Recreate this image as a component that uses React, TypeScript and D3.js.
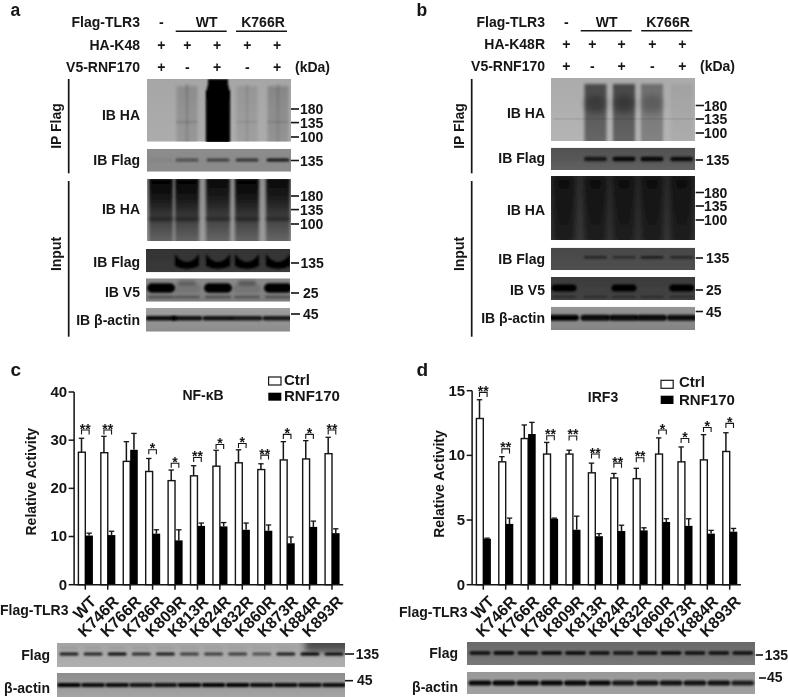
import React, { useEffect, useRef } from "react";
import * as d3 from "d3";

// ---------- bar chart data ----------
const mutants = ["WT", "K746R", "K766R", "K786R", "K809R", "K813R", "K824R", "K832R", "K860R", "K873R", "K884R", "K893R"];

const nfCtrl = [27.5, 27.4, 25.6, 23.5, 21.6, 22.6, 24.6, 25.3, 23.9, 25.9, 26.1, 27.2];
const nfCtrlTop = [30.4, 30.8, 29.7, 26.2, 23.8, 24.7, 27.9, 28, 25.1, 29.7, 29.9, 30.6];
const nfRnf = [10.2, 10.3, 28, 10.6, 9.2, 12.2, 12.1, 11.4, 11.2, 8.6, 12, 10.7];
const nfRnfTop = [10.7, 11.1, 31.4, 11.4, 11.4, 12.8, 12.9, 12.8, 12.4, 9.9, 13.2, 11.6];
const nfStars = ["**", "**", "", "*", "*", "**", "*", "*", "**", "*", "*", "**"];
const nfBracket = [32.1, 32.1, 0, 28, 25.2, 26.4, 29.1, 29.3, 26.9, 31.2, 31.2, 32.1];
const nfTicks = [0, 10, 20, 30, 40];

const irfCtrl = [12.85, 9.5, 11.3, 10.1, 10.1, 8.65, 8.25, 8.2, 10.1, 9.5, 9.65, 10.3];
const irfCtrlTop = [14.3, 9.9, 12.35, 11.0, 10.4, 9.4, 8.6, 9.0, 11.35, 10.65, 11.6, 11.75];
const irfRnf = [3.55, 4.7, 11.65, 5.1, 4.25, 3.75, 4.15, 4.2, 4.85, 4.55, 3.95, 4.1];
const irfRnfTop = [3.6, 5.15, 12.55, 5.15, 5.3, 3.95, 4.6, 4.4, 5.1, 5.1, 4.2, 4.35];
const irfStars = ["**", "**", "", "**", "**", "**", "**", "**", "*", "*", "*", "*"];
const irfBracket = [14.87, 10.5, 0, 11.52, 11.5, 10.1, 9.4, 9.82, 11.96, 11.3, 12.16, 12.47];
const irfTicks = [0, 5, 10, 15];

// ---------- blot lane intensities ----------
const aIpHa = [0, 0.16, 1, 0.1, 0.2];
const aIpFlag = [0.06, 0.45, 0.55, 0.65, 0.85];
const aInFlag = [0, 1, 1, 1, 1];
const aV5 = [1, 0.1, 1, 0.1, 1];
const aV5Upper = [0, 0.25, 0, 0.3, 0];
const aActin = [0.95, 0.9, 0.9, 0.85, 0.85];
const bIpHa = [0, 0.6, 0.62, 0.38, 0.06];
const bIpFlag = [0, 0.7, 0.9, 0.9, 0.85];
const bInFlag = [0, 0.55, 0.45, 0.65, 0.55];
const bV5 = [1, 0, 1, 0, 1];
const bActin = [1, 0.95, 0.95, 0.95, 0.9];
const cFlag = [0.85, 0.8, 0.95, 0.75, 0.85, 0.65, 0.65, 0.65, 0.55, 0.85, 1, 0.95];
const cActin = [1, 0.95, 0.95, 0.9, 0.9, 1, 1, 1, 0.95, 0.95, 0.95, 0.95];
const dFlag = [0.9, 1, 0.9, 0.95, 0.95, 0.9, 0.85, 0.9, 0.95, 0.9, 0.9, 0.9];
const dActin = [0.95, 1, 0.95, 0.95, 1, 0.95, 0.85, 0.9, 0.9, 0.9, 0.9, 0.8];

const FONT = "'Liberation Sans', Arial, sans-serif";
const INK = "#141414";

const T = ({ x, y, a = "start", s = 14, r, children }: any) => (
  <text
    x={x}
    y={y}
    textAnchor={a}
    fontSize={s}
    fontWeight={700}
    fontFamily={FONT}
    fill={INK}
    transform={r ? `rotate(${r} ${x} ${y})` : undefined}
  >
    {children}
  </text>
);

let blotId = 0;
const Blot = ({ x, y, w, h, top, bottom, children }: any) => {
  const id = `blot${blotId++}`;
  return (
    <g clipPath={`url(#${id}c)`}>
      <defs>
        <clipPath id={`${id}c`}>
          <rect x={x} y={y} width={w} height={h} />
        </clipPath>
        <linearGradient id={`${id}g`} x1="0" y1="0" x2="0" y2="1">
          <stop offset="0" stopColor={top} />
          <stop offset="1" stopColor={bottom} />
        </linearGradient>
      </defs>
      <rect x={x} y={y} width={w} height={h} fill={`url(#${id}g)`} />
      {children}
    </g>
  );
};

const bands = (cs: number[], vals: number[], y: number, w: number, h: number, blur = "b07", fill = "#000") =>
  cs.map((c, i) =>
    vals[i] > 0 ? (
      <rect key={`${y}-${i}`} x={c - w / 2} y={y - h / 2} width={w} height={h} rx={h / 2} fill={fill} opacity={vals[i]} filter={`url(#${blur})`} />
    ) : null
  );

const smears = (cs: number[], vals: number[], y1: number, y2: number, w: number, grad = "fade", blur = "b15") =>
  cs.map((c, i) =>
    vals[i] > 0 ? (
      <rect key={`s${y1}-${i}`} x={c - w / 2} y={y1} width={w} height={y2 - y1} fill={`url(#${grad})`} opacity={vals[i]} filter={`url(#${blur})`} />
    ) : null
  );

// smile-shaped band of the dark Flag exposure
const smiles = (cs: number[], vals: number[], y: number, w: number) =>
  cs.map((c, i) =>
    vals[i] > 0 ? (
      <path
        key={`m${i}`}
        d={`M${c - w / 2} ${y - 9}Q${c} ${y + 7} ${c + w / 2} ${y - 9}L${c + w / 2} ${y + 3}Q${c} ${y + 9} ${c - w / 2} ${y + 3}Z`}
        fill="#000"
        opacity={vals[i]}
        filter="url(#b07)"
      />
    ) : null
  );

const Marker = ({ x1, x2, y, tx, label, dy = 5 }: any) => (
  <g>
    <line x1={x1} x2={x2} y1={y} y2={y} stroke={INK} strokeWidth={1.6} />
    <T x={tx} y={y + dy} s={14}>{label}</T>
  </g>
);

const Chart = ({ x0, x1, yBottom, yTop, max, ticks, ctrl, ctrlTop, rnf, rnfTop, stars, bracket }: any) => {
  const yRef = useRef<SVGGElement>(null);
  const xRef = useRef<SVGGElement>(null);
  const x = d3.scaleBand<string>().domain(mutants).range([x0, x1]).padding(0);
  const y = d3.scaleLinear().domain([0, max]).range([yBottom, yTop]);
  const bw = 7.6;
  useEffect(() => {
    const ya = d3.axisLeft(y).tickValues(ticks).tickSize(5.4).tickSizeOuter(0).tickPadding(1.6).offset(0);
    const sy = d3.select(yRef.current as any).call(ya as any);
    sy.selectAll("text").attr("font-size", 15).attr("font-weight", 700).attr("font-family", FONT).attr("fill", INK);
    sy.selectAll("line,path").attr("stroke", INK).attr("stroke-width", 1.5);
    const xa = d3.axisBottom(x).tickSize(5).tickSizeOuter(0).offset(0);
    const sx = d3.select(xRef.current as any).call(xa as any);
    sx.selectAll("line,path").attr("stroke", INK).attr("stroke-width", 1.5);
    sx.selectAll("text")
      .attr("font-size", 16)
      .attr("font-weight", 700)
      .attr("font-family", FONT)
      .attr("fill", INK)
      .attr("text-anchor", "end")
      .attr("y", 0)
      .attr("dy", "0.35em")
      .attr("transform", "translate(8,14) rotate(-45)");
    sy.attr("font-family", null);
    sx.attr("font-family", null);
  }, []);
  return (
    <g>
      {mutants.map((m: string, i: number) => {
        const c = (x(m) as number) + x.bandwidth() / 2;
        const wx = c - bw / 2;
        const bx = c + bw / 2;
        const s = stars[i];
        const by = y(bracket[i]);
        return (
          <g key={m}>
            <line x1={wx} x2={wx} y1={y(ctrl[i])} y2={y(ctrlTop[i])} stroke={INK} strokeWidth={1.5} />
            <line x1={wx - 2.7} x2={wx + 2.7} y1={y(ctrlTop[i])} y2={y(ctrlTop[i])} stroke={INK} strokeWidth={1.3} />
            <line x1={bx} x2={bx} y1={y(rnf[i])} y2={y(rnfTop[i])} stroke={INK} strokeWidth={1.5} />
            <line x1={bx - 2.7} x2={bx + 2.7} y1={y(rnfTop[i])} y2={y(rnfTop[i])} stroke={INK} strokeWidth={1.3} />
            <rect x={c - bw + 0.7} y={y(ctrl[i])} width={bw - 0.7} height={yBottom - y(ctrl[i])} fill="#fff" stroke={INK} strokeWidth={1.4} />
            <rect x={c} y={y(rnf[i])} width={bw} height={yBottom - y(rnf[i])} fill="#000" />
            {s ? (
              <g>
                <path d={`M${wx} ${by + 4.5}V${by}H${bx}V${by + 4.5}`} fill="none" stroke={INK} strokeWidth={1.1} />
                <T x={c} y={by + 3.5} a="middle" s={14}>{s}</T>
              </g>
            ) : null}
          </g>
        );
      })}
      <g ref={yRef} transform={`translate(${x0},0)`} />
      <g ref={xRef} transform={`translate(0,${yBottom})`} />
    </g>
  );
};

const Header = ({ right, lanes, rows, row2, wt, kr, lineY, wtLine, krLine, kda }: any) => (
  <g>
    <T x={right} y={rows[0]} a="end">Flag-TLR3</T>
    <T x={right} y={rows[1]} a="end">{row2}</T>
    <T x={right} y={rows[2]} a="end">V5-RNF170</T>
    <T x={lanes[0]} y={rows[0]} a="middle">-</T>
    <T x={wt} y={rows[0]} a="middle">WT</T>
    <T x={kr} y={rows[0]} a="middle">K766R</T>
    <line x1={wtLine[0]} x2={wtLine[1]} y1={lineY} y2={lineY} stroke={INK} strokeWidth={1.4} />
    <line x1={krLine[0]} x2={krLine[1]} y1={lineY} y2={lineY} stroke={INK} strokeWidth={1.4} />
    {lanes.map((c: number, i: number) => (
      <T key={i} x={c} y={rows[1]} a="middle">+</T>
    ))}
    {lanes.map((c: number, i: number) => (
      <T key={i} x={c} y={rows[2]} a="middle">{i % 2 === 0 ? "+" : "-"}</T>
    ))}
    <T x={kda} y={rows[2]}>(kDa)</T>
  </g>
);

export default function App() {
  blotId = 0;
  const laneA = [161, 187, 218, 247, 278];
  const laneB = [564, 595.5, 624, 652, 681.7];
  const laneC = d3.scalePoint<number>().domain(d3.range(12)).range([69, 334]);
  const laneD = d3.scalePoint<number>().domain(d3.range(12)).range([480, 742.7]);
  const csC = d3.range(12).map((i) => laneC(i) as number);
  const csD = d3.range(12).map((i) => laneD(i) as number);
  const laneVal = (v: number) => [v, v, v, v, v];
  return (
    <svg
      width={788}
      height={697}
      viewBox="0 0 788 697"
      style={{ position: "absolute", left: 0, top: 0, display: "block", background: "#fff" }}
    >
      <defs>
        {[
          ["soft", 0.35],
          ["b07", 0.8],
          ["b15", 1.5],
          ["b3", 3],
        ].map(([id, s]) => (
          <filter key={id as string} id={id as string} filterUnits="userSpaceOnUse" x={0} y={0} width={788} height={697}>
            <feGaussianBlur stdDeviation={s as number} />
          </filter>
        ))}
        <linearGradient id="fade" x1="0" y1="0" x2="0" y2="1">
          <stop offset="0" stopColor="#000" stopOpacity={0.95} />
          <stop offset="0.5" stopColor="#000" stopOpacity={0.8} />
          <stop offset="1" stopColor="#000" stopOpacity={0.7} />
        </linearGradient>
        <linearGradient id="inHa" x1="0" y1="0" x2="0" y2="1">
          <stop offset="0" stopColor="#000" stopOpacity={1} />
          <stop offset="0.3" stopColor="#000" stopOpacity={0.85} />
          <stop offset="0.65" stopColor="#000" stopOpacity={0.55} />
          <stop offset="1" stopColor="#000" stopOpacity={0.3} />
        </linearGradient>
      </defs>

      <g filter="url(#soft)">
        {/* panel labels */}
        <T x={10.5} y={16} s={17.5}>a</T>
        <T x={416.5} y={16} s={17.5}>b</T>
        <T x={10.5} y={376} s={19}>c</T>
        <T x={416.5} y={376} s={19}>d</T>

        {/* ---------- panel a ---------- */}
        <Header right={140} lanes={[161.3, 187.3, 217, 247.3, 277]} rows={[27, 50, 71.5]} row2="HA-K48" wt={206.7} kr={263} lineY={31.3} wtLine={[175.7, 226.7]} krLine={[236, 287]} kda={295} />
        <line x1={68.7} x2={68.7} y1={79} y2={173.3} stroke={INK} strokeWidth={1.7} />
        <line x1={68.7} x2={68.7} y1={181} y2={336.7} stroke={INK} strokeWidth={1.7} />
        <T x={61} y={126} a="middle" r={-90} s={14}>IP Flag</T>
        <T x={61} y={254} a="middle" r={-90} s={14}>Input</T>
        <T x={140} y={120} a="end">IB HA</T>
        <T x={140} y={165} a="end">IB Flag</T>
        <T x={140} y={214} a="end">IB HA</T>
        <T x={140} y={267} a="end">IB Flag</T>
        <T x={140} y={297} a="end">IB V5</T>
        <T x={140} y={325} a="end">IB β-actin</T>

        <Blot x={147} y={79} w={144} h={62.7} top="#a6a6a6" bottom="#acacac">
          {smears(laneA, aIpHa, 86, 146, 21)}
          {smears(laneA.slice(1), [0.12, 0, 0.08, 0.1], 84, 146, 3, "fade", "b07")}
          <rect x={208} y={79} width={20} height={20} fill="#000" filter="url(#b07)" />
          <rect x={206} y={90} width={24} height={56} fill="#000" filter="url(#b07)" />
          {bands(laneA.slice(1), [0.25, 0, 0.15, 0.2], 122, 22, 1.2)}
        </Blot>
        <Blot x={147} y={149} w={144} h={22.7} top="#8c8c8c" bottom="#8a8a8a">
          {bands(laneA, aIpFlag, 160, 23, 3)}
        </Blot>
        <Blot x={147} y={179} w={144} h={62} top="#8f8f8f" bottom="#9a9a9a">
          {smears(laneA, [1, 1, 0.95, 1, 0.95], 178, 246, 24, "inHa")}
          {bands(laneA, laneVal(0.35), 219, 25, 4, "b15")}
        </Blot>
        <Blot x={146} y={249} w={144} h={23.3} top="#333" bottom="#3a3a3a">
          {smiles(laneA, aInFlag, 263, 24)}
        </Blot>
        <Blot x={146} y={278.3} w={144} h={23.4} top="#8a8a8a" bottom="#7c7c7c">
          {bands(laneA, aV5, 288, 28, 9.5, "b07")}
          {bands(laneA, aV5Upper, 283, 18, 5, "b15")}
          {bands(laneA, [0.4, 0.35, 0.4, 0.35, 0.4], 297, 26, 2.5, "b07")}
        </Blot>
        <Blot x={146} y={308} w={144} h={23.7} top="#9f9f9f" bottom="#8c8c8c">
          {bands(laneA, aActin, 318.3, 31, 4.6, "b07")}
        </Blot>
        <Marker x1={291} x2={299} y={109} tx={300} label="180" />
        <Marker x1={291} x2={299} y={122.6} tx={300} label="135" />
        <Marker x1={291} x2={299} y={137} tx={300} label="100" />
        <Marker x1={291} x2={299} y={160.5} tx={300} label="135" />
        <Marker x1={291} x2={299} y={196} tx={300} label="180" />
        <Marker x1={291} x2={299} y={209.6} tx={300} label="135" />
        <Marker x1={291} x2={299} y={224} tx={300} label="100" />
        <Marker x1={291} x2={299} y={263} tx={300.5} label="135" />
        <Marker x1={291} x2={299} y={293} tx={303} label="25" />
        <Marker x1={291} x2={300} y={314} tx={303} label="45" />

        {/* ---------- panel b ---------- */}
        <Header right={545} lanes={[566.3, 592.3, 621.7, 652.3, 682.3]} rows={[27, 49, 71]} row2="HA-K48R" wt={606.7} kr={668} lineY={30.7} wtLine={[580.7, 631.7]} krLine={[641.3, 692.3]} kda={700} />
        <line x1={471.7} x2={471.7} y1={79} y2={173.3} stroke={INK} strokeWidth={1.7} />
        <line x1={471.7} x2={471.7} y1={181} y2={336.7} stroke={INK} strokeWidth={1.7} />
        <T x={464} y={126} a="middle" r={-90} s={14}>IP Flag</T>
        <T x={464} y={254} a="middle" r={-90} s={14}>Input</T>
        <T x={545} y={118} a="end">IB HA</T>
        <T x={545} y={163} a="end">IB Flag</T>
        <T x={545} y={215} a="end">IB HA</T>
        <T x={545} y={264} a="end">IB Flag</T>
        <T x={545} y={295} a="end">IB V5</T>
        <T x={545} y={322.7} a="end">IB β-actin</T>

        <Blot x={551} y={78} w={144} h={63} top="#ababab" bottom="#b4b4b4">
          {smears(laneB, bIpHa, 84, 146, 22)}
          {bands(laneB, [0, 0.3, 0.3, 0.2, 0], 104, 22, 18, "b3")}
          <line x1={553} x2={694} y1={119} y2={119} stroke="#000" strokeWidth={0.8} opacity={0.15} />
        </Blot>
        <Blot x={551} y={147.7} w={144} h={22.3} top="#505050" bottom="#606060">
          {bands(laneB, bIpFlag, 159, 23, 4.5)}
        </Blot>
        <Blot x={551} y={176} w={144} h={64} top="#303030" bottom="#3c3c3c">
          {smears(laneB, laneVal(0.72), 175, 244, 23, "fade", "b3")}
        </Blot>
        <Blot x={551} y={247.7} w={144} h={22.3} top="#484848" bottom="#505050">
          {bands(laneB, bInFlag, 257.3, 23, 2.4)}
        </Blot>
        <Blot x={551} y={277} w={144} h={23} top="#3a3a3a" bottom="#444">
          {bands(laneB, bV5, 288, 25, 7, "b07")}
          {bands(laneB, laneVal(0.5), 297, 24, 1.6, "b07")}
        </Blot>
        <Blot x={551} y={306.7} w={144} h={23.3} top="#959595" bottom="#848484">
          {bands(laneB, bActin, 317.7, 30, 6, "b07")}
        </Blot>
        <Marker x1={695.7} x2={704} y={105.5} tx={704} label="180" />
        <Marker x1={695.7} x2={704} y={119} tx={704} label="135" />
        <Marker x1={695.7} x2={704} y={133} tx={704} label="100" />
        <Marker x1={695.7} x2={703} y={160} tx={706} label="135" />
        <Marker x1={695.7} x2={704} y={192.5} tx={704} label="180" />
        <Marker x1={695.7} x2={704} y={206} tx={704} label="135" />
        <Marker x1={695.7} x2={704} y={220} tx={704} label="100" />
        <Marker x1={695.7} x2={703} y={258} tx={706} label="135" />
        <Marker x1={695.7} x2={703} y={290} tx={706} label="25" />
        <Marker x1={695.7} x2={703} y={311.5} tx={706} label="45" />

        {/* ---------- panel c ---------- */}
        <Chart x0={74.1} x1={343.2} yBottom={584.7} yTop={392} max={40} ticks={nfTicks} ctrl={nfCtrl} ctrlTop={nfCtrlTop} rnf={nfRnf} rnfTop={nfRnfTop} stars={nfStars} bracket={nfBracket} />
        <T x={36} y={481.7} a="middle" r={-90}>Relative Activity</T>
        <T x={203} y={400} a="middle">NF-κB</T>
        <rect x={268.6} y={377} width={12.4} height={8} fill="#fff" stroke={INK} strokeWidth={1.2} />
        <T x={284} y={384.5} s={15}>Ctrl</T>
        <rect x={268.3} y={392.7} width={13} height={8} fill="#000" />
        <T x={284} y={401} s={15}>RNF170</T>
        <T x={0} y={615}>Flag-TLR3</T>
        <T x={50} y={660} a="end">Flag</T>
        <T x={50} y={692.7} a="end">β-actin</T>
        <Blot x={57} y={643} w={288} h={24} top="#a4a4a4" bottom="#b0b0b0">
          <rect x={305} y={636} width={50} height={16} fill="#333" opacity={0.75} filter="url(#b3)" />
          {bands(csC, cFlag, 654, 19, 3)}
          {bands(csC, [0.15, 0.15, 0.15, 0.15, 0.15, 0.12, 0.12, 0.1, 0.1, 0.1, 0, 0], 648, 18, 1.2)}
        </Blot>
        <Blot x={57} y={673} w={288} h={24} top="#8d8d8d" bottom="#a4a4a4">
          {bands(csC, cActin, 685, 24, 4.2)}
        </Blot>
        <Marker x1={345} x2={354} y={654} tx={355.7} label="135" />
        <Marker x1={345} x2={353} y={680.7} tx={357} label="45" dy={4} />

        {/* ---------- panel d ---------- */}
        <Chart x0={472.1} x1={740.9} yBottom={584.7} yTop={390.7} max={15} ticks={irfTicks} ctrl={irfCtrl} ctrlTop={irfCtrlTop} rnf={irfRnf} rnfTop={irfRnfTop} stars={irfStars} bracket={irfBracket} />
        <T x={444} y={484} a="middle" r={-90}>Relative Activity</T>
        <T x={603} y={402} a="middle">IRF3</T>
        <rect x={661} y={380.3} width={12.2} height={8} fill="#fff" stroke={INK} strokeWidth={1.2} />
        <T x={679} y={387} s={15}>Ctrl</T>
        <rect x={660.7} y={395.7} width={12.8} height={8.3} fill="#000" />
        <T x={679} y={405} s={15}>RNF170</T>
        <T x={399} y={617}>Flag-TLR3</T>
        <T x={458} y={658} a="end">Flag</T>
        <T x={458} y={692} a="end">β-actin</T>
        <Blot x={467} y={642} w={288} h={23} top="#696969" bottom="#787878">
          {bands(csD, dFlag, 653, 21, 3.6)}
        </Blot>
        <Blot x={467} y={672} w={288} h={22} top="#989898" bottom="#a0a0a0">
          {bands(csD, dActin, 683, 23, 5)}
        </Blot>
        <Marker x1={755.7} x2={763} y={655} tx={764.7} label="135" dy={4.5} />
        <Marker x1={759} x2={766} y={678} tx={767} label="45" dy={4} />
      </g>
    </svg>
  );
}
